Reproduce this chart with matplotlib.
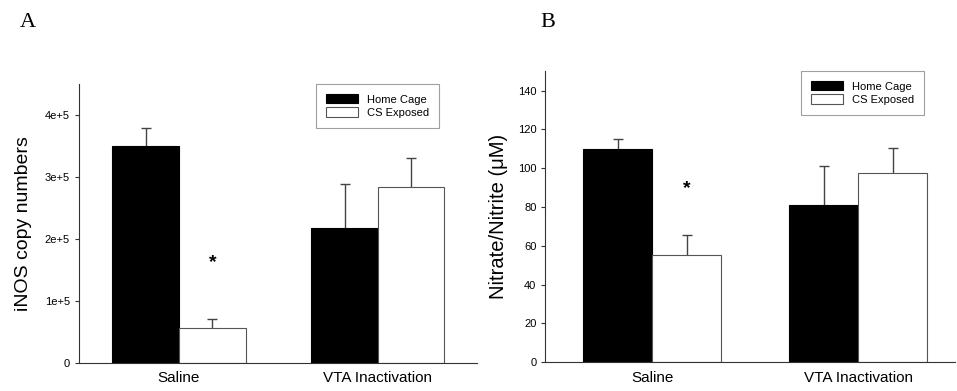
import numpy as np
import matplotlib.pyplot as plt

plt.rcParams['font.family'] = ['Liberation Sans', 'DejaVu Sans']

groups = ['Saline', 'VTA Inactivation']
series = ['Home Cage', 'CS Exposed']

# panel A: iNOS copy numbers
inos_home = [3.50e5, 2.18e5]
inos_home_err = [0.29e5, 0.70e5]
inos_cs = [0.57e5, 2.84e5]
inos_cs_err = [0.14e5, 0.47e5]

# panel B: nitrate/nitrite (uM)
nox_home = [109.7, 80.9]
nox_home_err = [5.5, 20.2]
nox_cs = [55.2, 97.3]
nox_cs_err = [10.4, 12.9]

fig = plt.figure(figsize=(9.57, 3.91), dpi=100)
axA = fig.add_axes([0.0826, 0.0716, 0.4154, 0.7134])
axB = fig.add_axes([0.570, 0.0734, 0.428, 0.7446])

w = 0.335
x = np.arange(len(groups))


def up_err(ax, xs, vals, errs):
    tops = np.array(vals) + np.array(errs)
    ax.vlines(xs, vals, tops, color='#444444', linewidth=1, zorder=1)
    ax.plot(xs, tops, ls='none', marker='_', ms=7, mew=1, color='#444444', zorder=1)


def draw(ax, home, home_err, cs, cs_err, anchor):
    up_err(ax, x - w / 2, home, home_err)
    up_err(ax, x + w / 2, cs, cs_err)
    ax.bar(x - w / 2, home, w, color='black', edgecolor='black', linewidth=0.8,
           label=series[0], zorder=2)
    ax.bar(x + w / 2, cs, w, color='white', edgecolor='#555555', linewidth=0.8,
           label=series[1], zorder=2)
    for s in ['top', 'right']:
        ax.spines[s].set_visible(False)
    for s in ['left', 'bottom']:
        ax.spines[s].set_color('#333333')
        ax.spines[s].set_linewidth(0.8)
    ax.set_xticks(x)
    ax.set_xticklabels(groups, fontsize=11)
    ax.tick_params(axis='x', length=0, pad=6)
    ax.tick_params(axis='y', length=3, labelsize=8, color='#333333', width=0.8)
    leg = ax.legend(loc='upper right', fontsize=8, frameon=True, fancybox=False,
                    edgecolor='#888888', handlelength=2.9, handleheight=0.9,
                    borderpad=0.9, labelspacing=0.25, borderaxespad=0,
                    bbox_to_anchor=anchor)
    leg.get_frame().set_linewidth(0.8)


draw(axA, inos_home, inos_home_err, inos_cs, inos_cs_err, (0.905, 1.0))
axA.set_xlim(-0.503, 1.497)
axA.set_ylim(0, 4.5e5)
axA.set_yticks([0, 1e5, 2e5, 3e5, 4e5])
axA.set_yticklabels(['0', '1e+5', '2e+5', '3e+5', '4e+5'])
axA.set_ylabel('iNOS copy numbers', fontsize=14, labelpad=9)
axA.text(x[0] + w / 2, 1.62e5, '*', ha='center', va='center', fontsize=14, fontweight='bold')

draw(axB, nox_home, nox_home_err, nox_cs, nox_cs_err, (0.924, 1.0))
axB.set_xlim(-0.518, 1.47)
axB.set_ylim(0, 150)
axB.set_yticks(np.arange(0, 141, 20))
axB.set_ylabel('Nitrate/Nitrite (\u03bcM)', fontsize=14.5, labelpad=7)
axB.text(x[0] + w / 2, 89.5, '*', ha='center', va='center', fontsize=14, fontweight='bold')

fig.text(0.021, 0.93, 'A', family='Liberation Serif', fontsize=16)
fig.text(0.565, 0.93, 'B', family='Liberation Serif', fontsize=16)

fig.savefig('out.png', dpi=100)
